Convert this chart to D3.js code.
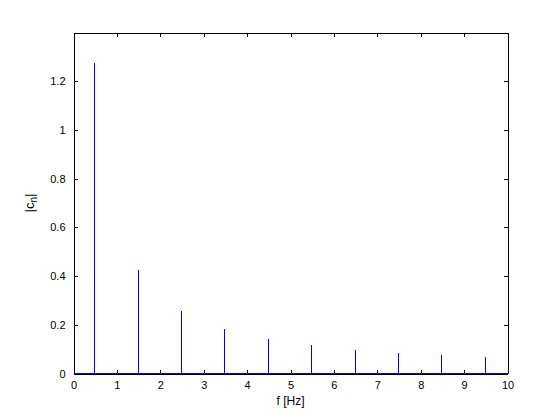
<!DOCTYPE html>
<html><head><meta charset="utf-8">
<script src="https://cdn.jsdelivr.net/npm/d3@7"></script>
<style>body{margin:0;background:#fff}svg{display:block}text{font-family:"Liberation Sans",Arial,sans-serif;}</style>
</head><body><svg id="c" width="560" height="420"></svg>
<script>
const freqs = [0.5, 1.5, 2.5, 3.5, 4.5, 5.5, 6.5, 7.5, 8.5, 9.5];
const mags = [1.273, 0.424, 0.255, 0.182, 0.141, 0.116, 0.098, 0.085, 0.075, 0.067];
const xTicks = [0,1,2,3,4,5,6,7,8,9,10];
const yTicks = [0,0.2,0.4,0.6,0.8,1,1.2];

const svg = d3.select("#c");
const L = 73.5, R = 507.5, T = 32.5, B = 373.5;
const x = d3.scaleLinear().domain([0,10]).range([L,R]);
const y = d3.scaleLinear().domain([0,1.4]).range([B,T]);

svg.append("rect").attr("x",0).attr("y",0).attr("width",560).attr("height",420).attr("fill","#fff");

const fmt = d => d3.format("")(d);
const gb = svg.append("g").attr("transform",`translate(0,${B})`)
  .call(d3.axisBottom(x).tickValues(xTicks).tickSizeInner(-4).tickSizeOuter(0).tickPadding(8).tickFormat(fmt));
const gt = svg.append("g").attr("transform",`translate(0,${T})`)
  .call(d3.axisTop(x).tickValues(xTicks).tickSizeInner(-4).tickSizeOuter(0).tickFormat(""));
const gl = svg.append("g").attr("transform",`translate(${L},0)`)
  .call(d3.axisLeft(y).tickValues(yTicks).tickSizeInner(-4).tickSizeOuter(0).tickPadding(8).tickFormat(fmt));
const gr = svg.append("g").attr("transform",`translate(${R},0)`)
  .call(d3.axisRight(y).tickValues(yTicks).tickSizeInner(-4).tickSizeOuter(0).tickFormat(""));
[gb,gt,gl,gr].forEach(g=>{
  g.selectAll("path,line").attr("stroke","#000").attr("shape-rendering","crispEdges");
  g.selectAll("text").attr("font-size",11).attr("fill","#000").attr("font-family","Liberation Sans, Arial, sans-serif");
});
gb.selectAll("text").attr("dy","0.71em");

const sx = d => Math.floor(x(d) - 0.5) + 0.5;
svg.append("g").selectAll("line").data(freqs).join("line")
  .attr("x1",sx).attr("x2",sx)
  .attr("y1",y(0)).attr("y2",(d,i)=>y(mags[i]))
  .attr("stroke","#0000ff").attr("stroke-width",1).attr("shape-rendering","crispEdges");
svg.append("line").attr("x1",x(0)).attr("x2",x(10)).attr("y1",y(0)).attr("y2",y(0))
  .attr("stroke","#0000ff").attr("stroke-width",1).attr("shape-rendering","crispEdges");

svg.append("text").attr("x",(L+R)/2).attr("y",405).attr("text-anchor","middle")
  .attr("font-size",12).text("f [Hz]");
const yl = svg.append("text").attr("transform",`translate(34,${(T+B)/2}) rotate(-90)`)
  .attr("text-anchor","middle").attr("font-size",13);
yl.append("tspan").text("|c");
yl.append("tspan").attr("font-size",10).attr("dy",3).text("n");
yl.append("tspan").attr("dy",-3).text("|");
</script></body></html>
